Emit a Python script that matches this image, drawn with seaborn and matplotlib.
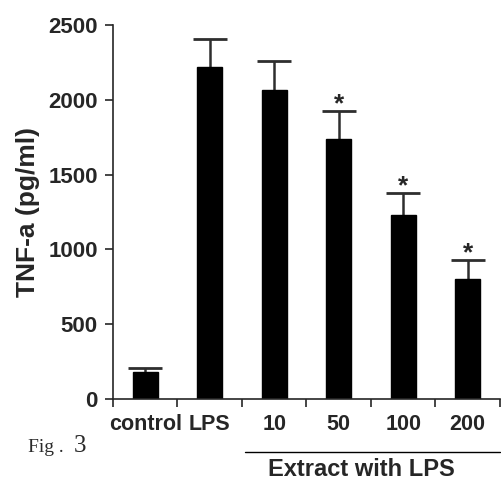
import numpy as np
import pandas as pd
import matplotlib
matplotlib.use("Agg")
import matplotlib.pyplot as plt
import matplotlib.transforms as mtransforms
import seaborn as sns

groups = ["control", "LPS", "10", "50", "100", "200"]
tnf_mean = [180, 2220, 2065, 1738, 1230, 802]
tnf_sem = [27, 186, 194, 187, 147, 127]
signif = [False, False, False, True, True, True]

sns.set_style("ticks")
plt.rcParams["font.family"] = ["Liberation Sans", "DejaVu Sans"]
plt.rcParams["font.weight"] = "bold"

df = pd.DataFrame({"group": groups, "tnf": tnf_mean})

fig = plt.figure(figsize=(5.01, 4.80), dpi=100)
ax = fig.add_axes([0.2255, 0.169, 0.7725, 0.779])

sns.barplot(data=df, x="group", y="tnf", order=groups, color="black",
            width=0.39, saturation=1, errorbar=None, ax=ax, zorder=2)
for p in ax.patches:
    p.set_edgecolor("black")

# upper-only error bars (SEM)
x = np.arange(len(groups))
top = np.array(tnf_mean) + np.array(tnf_sem)
ax.vlines(x, tnf_mean, top, color="#2e2e2e", lw=1.8, zorder=1)
ax.hlines(top, x - 0.26, x + 0.26, color="#2e2e2e", lw=2.0, zorder=1)

for xi, t, s in zip(x, top, signif):
    if s:
        ax.text(xi, t - 35, "*", ha="center", va="bottom",
                fontsize=19, fontweight="bold")

ax.set_xlim(-0.5, 5.5)
ax.set_ylim(0, 2500)
ax.set_yticks([0, 500, 1000, 1500, 2000, 2500])
ax.tick_params(axis="y", length=6, width=1.2, labelsize=16, pad=5)
for lab in ax.get_yticklabels():
    lab.set_fontweight("bold")

# category labels centred, ticks at category boundaries
ax.set_xticks(x)
ax.set_xticklabels(groups, fontsize=15.5, fontweight="bold")
ax.tick_params(axis="x", which="major", length=0, pad=11)
ax.set_xticks(np.arange(-0.5, 6.0, 1.0), minor=True)
ax.tick_params(axis="x", which="minor", length=6, width=1.2)

ax.set_xlabel("")
ax.set_ylabel("TNF-a (pg/ml)", fontsize=19, fontweight="bold", labelpad=6)

for sp in ["top", "right"]:
    ax.spines[sp].set_visible(False)
for sp in ["left", "bottom"]:
    ax.spines[sp].set_linewidth(1.2)

# bracket for extract groups
trans = mtransforms.blended_transform_factory(ax.transData, fig.transFigure)
ax.plot([1.55, 5.5], [0.058, 0.058], transform=trans, color="black",
        lw=1.0, clip_on=False)
ax.text(3.35, 0.022, "Extract with LPS", transform=trans, ha="center",
        va="center", fontsize=17, fontweight="bold")

fig.text(0.056, 0.058, "Fig .", family="Liberation Serif", fontsize=14,
         fontweight="normal", color="#2a2a2a", va="baseline")
fig.text(0.148, 0.058, "3", family="Liberation Serif", fontsize=18,
         fontweight="normal", color="#2a2a2a", va="baseline")

fig.savefig("out.png", dpi=100)
